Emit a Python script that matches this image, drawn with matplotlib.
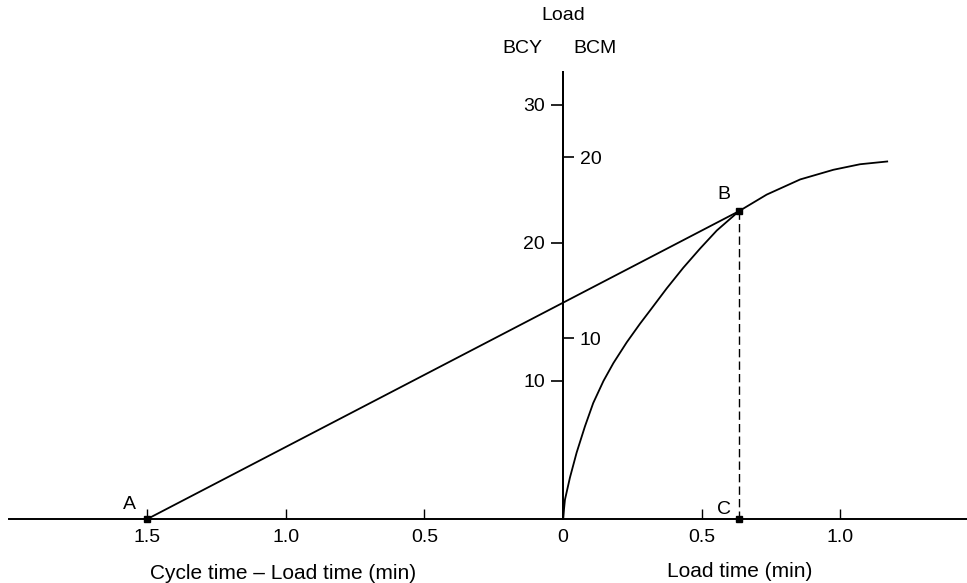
import numpy as np
import matplotlib.pyplot as plt

plt.rcParams['font.family'] = ['Liberation Sans', 'DejaVu Sans']

# load growth curve: load time (min) vs load (BCY)
load_time = [0, 0.007, 0.025, 0.049, 0.079, 0.109, 0.146, 0.182, 0.230, 0.278,
             0.314, 0.374, 0.434, 0.495, 0.555, 0.635, 0.735, 0.856, 0.976,
             1.072, 1.17]
load_bcy = [0, 1.4, 3.0, 4.8, 6.7, 8.4, 10.0, 11.3, 12.8, 14.15,
            15.1, 16.7, 18.2, 19.6, 20.9, 22.3, 23.5, 24.6, 25.3,
            25.7, 25.9]

# key points (min, BCY)
point_a = (-1.5, 0.0)
point_b = (0.635, 22.3)
point_c = (0.635, 0.0)

xticks = [-1.5, -1.0, -0.5, 0, 0.5, 1.0]
xtick_labels = ['1.5', '1.0', '0.5', '0', '0.5', '1.0']
bcy_ticks = [10, 20, 30]
bcm_ticks = [10, 20]
bcy_per_bcm = 1.31

fig = plt.figure(figsize=(9.67, 5.83), dpi=100)
ax = fig.add_axes([0, 0, 1, 1])
ax.set_xlim(-2.032, 1.458)
ax.set_ylim(-4.64, 37.6)

# axes crossing at the origin
for s in ['top', 'right']:
    ax.spines[s].set_visible(False)
ax.spines['left'].set_position(('data', 0))
ax.spines['left'].set_bounds(0, 32.4)
ax.spines['bottom'].set_position(('data', 0))
ax.spines['bottom'].set_bounds(-2.0, 1.46)
for s in ['left', 'bottom']:
    ax.spines[s].set_linewidth(1.4)

ax.set_xticks(xticks)
ax.set_xticklabels(xtick_labels)
ax.tick_params(axis='x', direction='in', length=7, width=1.0, pad=7, labelsize=14)
ax.set_yticks(bcy_ticks)
ax.tick_params(axis='y', direction='out', length=9, width=1.2, pad=4, labelsize=14)

# BCM scale on the right side of the same vertical line
ax2 = ax.twinx()
ax2.set_ylim(-4.64 / bcy_per_bcm, 37.6 / bcy_per_bcm)
for s in ['top', 'left', 'bottom']:
    ax2.spines[s].set_visible(False)
ax2.spines['right'].set_position(('data', 0))
ax2.spines['right'].set_bounds(0, 32.4 / bcy_per_bcm)
ax2.spines['right'].set_linewidth(1.4)
ax2.set_yticks(bcm_ticks)
ax2.tick_params(axis='y', direction='out', length=8, width=1.2, pad=4, labelsize=14)

# curve, tangent line and drop line
ax.plot(load_time, load_bcy, color='black', lw=1.3)
ax.plot([point_a[0], point_b[0]], [point_a[1], point_b[1]], color='black', lw=1.3)
ax.plot([point_b[0], point_c[0]], [point_b[1], point_c[1]], color='black', lw=1.0,
        linestyle=(0, (6, 3)))
for p in [point_a, point_b, point_c]:
    ax.plot(p[0], p[1], 's', color='black', ms=5, zorder=5, clip_on=False)

ax.text(point_a[0] - 0.04, point_a[1] + 0.4, 'A', ha='right', va='bottom', fontsize=14)
ax.text(point_b[0] - 0.03, point_b[1] + 0.6, 'B', ha='right', va='bottom', fontsize=14)
ax.text(point_c[0] - 0.03, point_c[1] + 0.1, 'C', ha='right', va='bottom', fontsize=14)

# labels
ax.text(0, 36.5, 'Load', ha='center', va='center', fontsize=14)
ax.text(-0.148, 34.1, 'BCY', ha='center', va='center', fontsize=14)
ax.text(0.116, 34.1, 'BCM', ha='center', va='center', fontsize=14)
ax.text(-1.01, -3.95, 'Cycle time \u2013 Load time (min)', ha='center', va='center', fontsize=15)
ax.text(0.639, -3.8, 'Load time (min)', ha='center', va='center', fontsize=15)

fig.savefig('out.png', dpi=100)
